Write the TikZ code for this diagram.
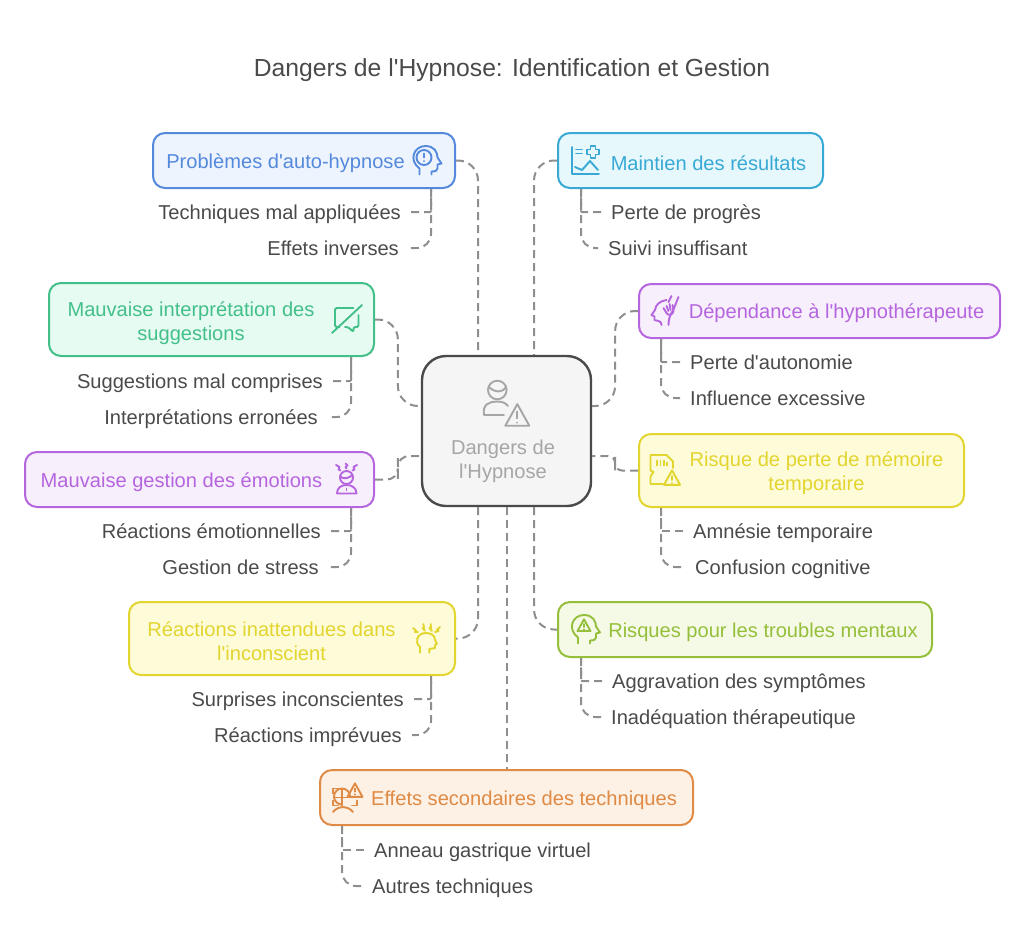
\documentclass[tikz,border=0pt]{standalone}
\usepackage{fontspec}
\setmainfont{Liberation Sans}[Ligatures=TeXOff]
\usetikzlibrary{calc}

\definecolor{inkgray}{HTML}{4A4A4A}
\definecolor{linkgray}{HTML}{8E8E8E}
\definecolor{bluec}{HTML}{5589DB}   \definecolor{bluef}{HTML}{EDF4FE}
\definecolor{cyanc}{HTML}{38A9D4}   \definecolor{cyanf}{HTML}{E7F8FD}
\definecolor{greenc}{HTML}{43BF8A}  \definecolor{greenf}{HTML}{E6FBF1}
\definecolor{purplec}{HTML}{B566DE} \definecolor{purplef}{HTML}{F8EFFD}
\definecolor{yellowc}{HTML}{E2D52F} \definecolor{yellowf}{HTML}{FEFBD8}
\definecolor{limec}{HTML}{95BF3A}   \definecolor{limef}{HTML}{F4FAE5}
\definecolor{orangec}{HTML}{DF8A45} \definecolor{orangef}{HTML}{FDF0E4}

\tikzset{
    topicbox/.style={draw=#1c, fill=#1f, line width=2pt, rounded corners=12pt, inner sep=0pt},
    topictext/.style={text=#1c, align=center, yshift=-2pt, font=\fontsize{20.1}{24}\selectfont},
    sublabel/.style={text=inkgray, inner xsep=10pt, inner ysep=0pt, text height=16pt, text depth=2pt,
        font=\fontsize{20.1}{24}\selectfont},
    link/.style={draw=linkgray, line width=2pt, dash pattern=on 8pt off 5pt, rounded corners=#1},
    link/.default=14pt,
    elbow/.style={to path={-| ($(\tikztostart)!.5!(\tikztotarget)$) |- (\tikztotarget)}},
    glyph/.style={draw=#1, line width=1.9pt, line cap=round, line join=round, fill=none},
}

% head in profile, drawn round its own centre
\newcommand{\headline}{
    (-7,14) -- (-7,8) .. controls (-18,0) and (-13,-14.5) .. (-1,-14.5)
    .. controls (8,-14.5) and (11,-8) .. (11,-3) -- (15,3) -- (11,4) -- (11,8)
    .. controls (11,10) and (9,11) .. (5,11) -- (5,14)
}
% small warning triangle
\newcommand{\warnline}[1]{
    (-#1,#1*.85) -- (0,-#1*.95) -- (#1,#1*.85) -- cycle
}

\begin{document}
\begin{tikzpicture}[x=1pt, y=-1pt]
    \useasboundingbox (0,0) rectangle (1024,946);

    \node[text=inkgray, font=\fontsize{24.7}{30}\selectfont] (title) at (512,70) {Dangers de l'Hypnose: Identification et Gestion};

    % centre
    \node[draw=inkgray, fill=black!4, line width=2.4pt, rounded corners=24pt, minimum width=169pt, minimum height=150pt,
        inner sep=0pt] (hub) at (506.5,431) {};
    \node[text=black!35, align=center, yshift=-2pt, font=\fontsize{20.1}{24}\selectfont] (hubtext) at (503,459) {Dangers de\\l'Hypnose};

    % topics
    \node[topicbox=blue, minimum width=302pt, minimum height=55pt] (autohyp) at (304,160.5) {};
    \node[topicbox=cyan, minimum width=265pt, minimum height=55pt] (suivi) at (690.5,160.5) {};
    \node[topicbox=green, minimum width=325pt, minimum height=73pt] (interp) at (211.5,319.5) {};
    \node[topicbox=purple, minimum width=361pt, minimum height=54pt] (depend) at (819.5,311) {};
    \node[topicbox=purple, minimum width=349pt, minimum height=55pt] (emotion) at (199.5,479.5) {};
    \node[topicbox=yellow, minimum width=325pt, minimum height=73pt] (memoire) at (801.5,470.5) {};
    \node[topicbox=yellow, minimum width=326pt, minimum height=73pt] (reaction) at (292,638.5) {};
    \node[topicbox=lime, minimum width=374pt, minimum height=55pt] (mental) at (745,629.5) {};
    \node[topicbox=orange, minimum width=373pt, minimum height=55pt] (effets) at (506.5,797.5) {};

    \node[topictext=blue] (autohyptext) at (285.5,161) {Problèmes d'auto-hypnose};
    \node[topictext=cyan] (suivitext) at (708.5,161) {Maintien des résultats};
    \node[topictext=green] (interptext) at (191,321) {Mauvaise interprétation des\\suggestions};
    \node[topictext=purple] (dependtext) at (836.5,311) {Dépendance à l'hypnothérapeute};
    \node[topictext=purple] (emotiontext) at (181.5,480) {Mauvaise gestion des émotions};
    \node[topictext=yellow] (memoiretext) at (816.5,471) {Risque de perte de mémoire\\temporaire};
    \node[topictext=yellow] (reactiontext) at (271.5,639) {Réactions inattendues dans\\l'inconscient};
    \node[topictext=lime] (mentaltext) at (763,630) {Risques pour les troubles mentaux};
    \node[topictext=orange] (effetstext) at (524,798) {Effets secondaires des techniques};

    % sub labels
    \node[sublabel, anchor=east] (tech) at (411,212) {Techniques mal appliquées};
    \node[sublabel, anchor=east] (inverses) at (409,248) {Effets inverses};
    \node[sublabel, anchor=west] (progres) at (601,212) {Perte de progrès};
    \node[sublabel, anchor=west] (insuff) at (598,248) {Suivi insuffisant};
    \node[sublabel, anchor=east] (comprises) at (333,381) {Suggestions mal comprises};
    \node[sublabel, anchor=east] (erronees) at (328,417) {Interprétations erronées};
    \node[sublabel, anchor=west] (autonomie) at (680,362) {Perte d'autonomie};
    \node[sublabel, anchor=west] (excessive) at (680,398) {Influence excessive};
    \node[sublabel, anchor=east] (emotionnelles) at (331,531) {Réactions émotionnelles};
    \node[sublabel, anchor=east] (stress) at (329,567) {Gestion de stress};
    \node[sublabel, anchor=west] (amnesie) at (683,531) {Amnésie temporaire};
    \node[sublabel, anchor=west] (confusion) at (685,567) {Confusion cognitive};
    \node[sublabel, anchor=east] (surprises) at (414,699) {Surprises inconscientes};
    \node[sublabel, anchor=east] (imprevues) at (412,735) {Réactions imprévues};
    \node[sublabel, anchor=west] (aggravation) at (602,681) {Aggravation des symptômes};
    \node[sublabel, anchor=west] (inadequation) at (601,717) {Inadéquation thérapeutique};
    \node[sublabel, anchor=west] (anneau) at (364,850) {Anneau gastrique virtuel};
    \node[sublabel, anchor=west] (autres) at (362,886) {Autres techniques};

    % hub connectors
    \draw[link=20pt] (autohyp.east) -| ([xshift=-28.5pt]hub.north);
    \draw[link=20pt] (suivi.west) -| ([xshift=27.5pt]hub.north);
    \draw[link=20pt] (interp.east) to[elbow] ([yshift=25pt]hub.west);
    \draw[link=20pt] (depend.west) to[elbow] ([yshift=25pt]hub.east);
    \draw[link=11pt] (emotion.east) to[elbow] ([yshift=-25pt]hub.west);
    \draw[link=7pt] (memoire.west) to[elbow] ([yshift=-25pt]hub.east);
    \draw[link=20pt] ([xshift=-28.5pt]hub.south) |- (reaction.east);
    \draw[link=20pt] ([xshift=27.5pt]hub.south) |- (mental.west);
    \draw[link] (hub.south) -- (effets.north);

    % sub connectors
    \draw[link=1pt] (tech.east) -| ([xshift=-25pt]autohyp.south east);
    \draw[link] ([xshift=-25pt]autohyp.south east) |- (inverses.east);
    \draw[link=1pt] (progres.west) -| ([xshift=24pt]suivi.south west);
    \draw[link] ([xshift=24pt]suivi.south west) |- (insuff.west);
    \draw[link=1pt] (comprises.east) -| ([xshift=-24pt]interp.south east);
    \draw[link] ([xshift=-24pt]interp.south east) |- (erronees.east);
    \draw[link=1pt] (autonomie.west) -| ([xshift=23pt]depend.south west);
    \draw[link] ([xshift=23pt]depend.south west) |- (excessive.west);
    \draw[link=1pt] (emotionnelles.east) -| ([xshift=-24pt]emotion.south east);
    \draw[link] ([xshift=-24pt]emotion.south east) |- (stress.east);
    \draw[link=1pt] (amnesie.west) -| ([xshift=23pt]memoire.south west);
    \draw[link] ([xshift=23pt]memoire.south west) |- (confusion.west);
    \draw[link=1pt] (surprises.east) -| ([xshift=-25pt]reaction.south east);
    \draw[link] ([xshift=-25pt]reaction.south east) |- (imprevues.east);
    \draw[link=1pt] (aggravation.west) -| ([xshift=24pt]mental.south west);
    \draw[link] ([xshift=24pt]mental.south west) |- (inadequation.west);
    \draw[link=1pt] (anneau.west) -| ([xshift=23pt]effets.south west);
    \draw[link] ([xshift=23pt]effets.south west) |- (autres.west);

    % hub icon: person and warning
    \begin{scope}[shift={(505,405)}, glyph=black!35]
        \draw (-7.7,-15) circle (9.3);
        \draw (-16,-18) .. controls (-10,-12) and (-3,-12) .. (1,-18);
        \draw (-1,10) -- (-21,10) .. controls (-23,-1) and (-15,-3.5) .. (-8,-3.5) .. controls (-3,-3.5) and (1,-2) .. (3,1);
        \begin{scope}[shift={(12.3,10.5)}]
            \draw \warnline{12};
            \draw (0,-4) -- (0,3); \draw (0,7) -- (0,7.2);
        \end{scope}
    \end{scope}

    % blue: head with warning circle
    \begin{scope}[shift={(426.5,160.5)}, glyph=bluec]
        \draw \headline;
        \draw (-2.5,-3) circle (7.5);
        \draw (-2.5,-7) -- (-2.5,-3); \draw (-2.5,0.5) -- (-2.5,0.7);
    \end{scope}

    % cyan: chart with plus
    \begin{scope}[shift={(585,160.5)}, glyph=cyanc]
        \draw (-13.4,-13.5) -- (-13.4,13.5) -- (14,13.5);
        \draw (-9,-11) -- (-3,-11); \draw (-9,-7) -- (-3,-7);
        \draw (-10,6.5) -- (-3,9.5) -- (5,0.5) -- (13,9.5);
        \begin{scope}[shift={(8,-8.5)}]
            \draw (-2.5,-6) -- (2.5,-6) -- (2.5,-2.5) -- (6,-2.5) -- (6,2.5) -- (2.5,2.5) -- (2.5,6) -- (-2.5,6) -- (-2.5,2.5) -- (-6,2.5) -- (-6,-2.5) -- (-2.5,-2.5) -- cycle;
        \end{scope}
    \end{scope}

    % green: crossed out speech bubbles
    \begin{scope}[shift={(346.5,320)}, glyph=greenc, rounded corners=1.5pt]
        \draw (7,-12) -- (-11.5,-12) -- (-11.5,7) -- (-7,7);
        \draw (12,-5) -- (12,7) -- (7,7) -- (7,12) -- (1.5,7) -- (-1.5,7);
        \draw (-14.5,13) -- (15.5,-15);
    \end{scope}

    % purple: head with pointing hand
    \begin{scope}[shift={(665.5,311)}, glyph=purplec]
        \draw (1,-11) .. controls (-6,-10) and (-10,-6) .. (-10.5,-1) -- (-14,4) -- (-11,5.5) -- (-11,9) -- (-7,10) .. controls (-5,10) and (-4,12) .. (-4,14);
        \draw (3,14) .. controls (3,9) and (4,6) .. (6,2) .. controls (9,-3) and (10,-7) .. (13,-14);
        \draw (-2,-3) -- (1,2) .. controls (2,5) and (8,4) .. (8,0) -- (7,-6);
        \draw (1,-5) -- (3,0); \draw (4,-7) -- (5,-1);
        \draw (3,-9) -- (6,-15);
    \end{scope}

    % purple: stressed person
    \begin{scope}[shift={(346.5,479.5)}, glyph=purplec]
        \draw (0,-2) circle (6.5);
        \draw (-6.5,-3) .. controls (-3,0) and (3,-1) .. (6,-5);
        \draw (-9.5,14) -- (10,14) .. controls (10,8) and (5,5.5) .. (0,5.5) .. controls (-5,5.5) and (-9.5,8) .. (-9.5,14);
        \draw (0,9) -- (0,11);
        \draw (-10.5,-14.5) -- (-7,-12.5) -- (-8,-10) -- (-6,-9);
        \draw (10.5,-14.5) -- (7,-12.5) -- (8,-10) -- (6,-9);
        \draw (-1,-16) -- (1,-14) -- (-1,-12.5) -- (0,-11);
    \end{scope}

    % yellow: memory card with warning
    \begin{scope}[shift={(665.5,470.5)}, glyph=yellowc]
        \draw (-2.5,13.5) -- (-15,13.5) -- (-15,6) -- (-12,1.5) -- (-15,0) -- (-15,-15.5) -- (1,-15.5) -- (7.5,-9) -- (7.5,-2.5);
        \draw (-8.5,-10) -- (-8.5,-5); \draw (-5,-10) -- (-5,-5); \draw (-1.5,-10) -- (-1.5,-5); \draw (1.5,-8) -- (1.5,-5);
        \begin{scope}[shift={(6.5,7.5)}]
            \draw \warnline{8};
            \draw (0,-2) -- (0,2); \draw (0,4.8) -- (0,5);
        \end{scope}
    \end{scope}

    % yellow: head with sparks
    \begin{scope}[shift={(426,640)}, glyph=yellowc]
        \draw (-6,12.7) -- (-6,7) .. controls (-12,2) and (-9,-7) .. (0,-7)
            .. controls (6,-7) and (9,-4) .. (9,0) -- (11,4) -- (9,5) -- (9,8) -- (3.3,9) -- (3.3,12.7);
        \draw (-13,-12) -- (-10,-9.5) -- (-11,-8) -- (-8,-8);
        \draw (-2.7,-16) -- (-2,-12) -- (-3.5,-12) -- (-1,-9.3);
        \draw (4.7,-16) -- (5,-12) -- (3.5,-12) -- (6,-9);
        \draw (14,-13) -- (11,-10) -- (12.5,-9) -- (9,-8);
    \end{scope}

    % lime: head with warning triangle
    \begin{scope}[shift={(585,629.5)}, glyph=limec]
        \draw \headline;
        \begin{scope}[shift={(-1,-4)}]
            \draw \warnline{6.5};
            \draw (0,-1.5) -- (0,1.5); \draw (0,3.8) -- (0,4);
        \end{scope}
    \end{scope}

    % orange: scan frame, globe and warning
    \begin{scope}[shift={(346,797.5)}, glyph=orangec]
        \draw (-8,-9) -- (-13,-9) -- (-13,-4);
        \draw (-13,3) -- (-13,8) -- (-8,8);
        \draw (6,8) -- (11,8) -- (11,3);
        \draw (4,-1) arc (0:-270:8);
        \draw (-12,0) -- (4,0); \draw (-4,-8) -- (-4,8);
        \draw (-13,14.5) .. controls (-8,8) and (2,8) .. (7,14.5);
        \begin{scope}[shift={(9,-7)}]
            \draw \warnline{7.5};
            \draw (0,-2) -- (0,1.2); \draw (0,3.8) -- (0,4);
        \end{scope}
    \end{scope}

\end{tikzpicture}
\end{document}
